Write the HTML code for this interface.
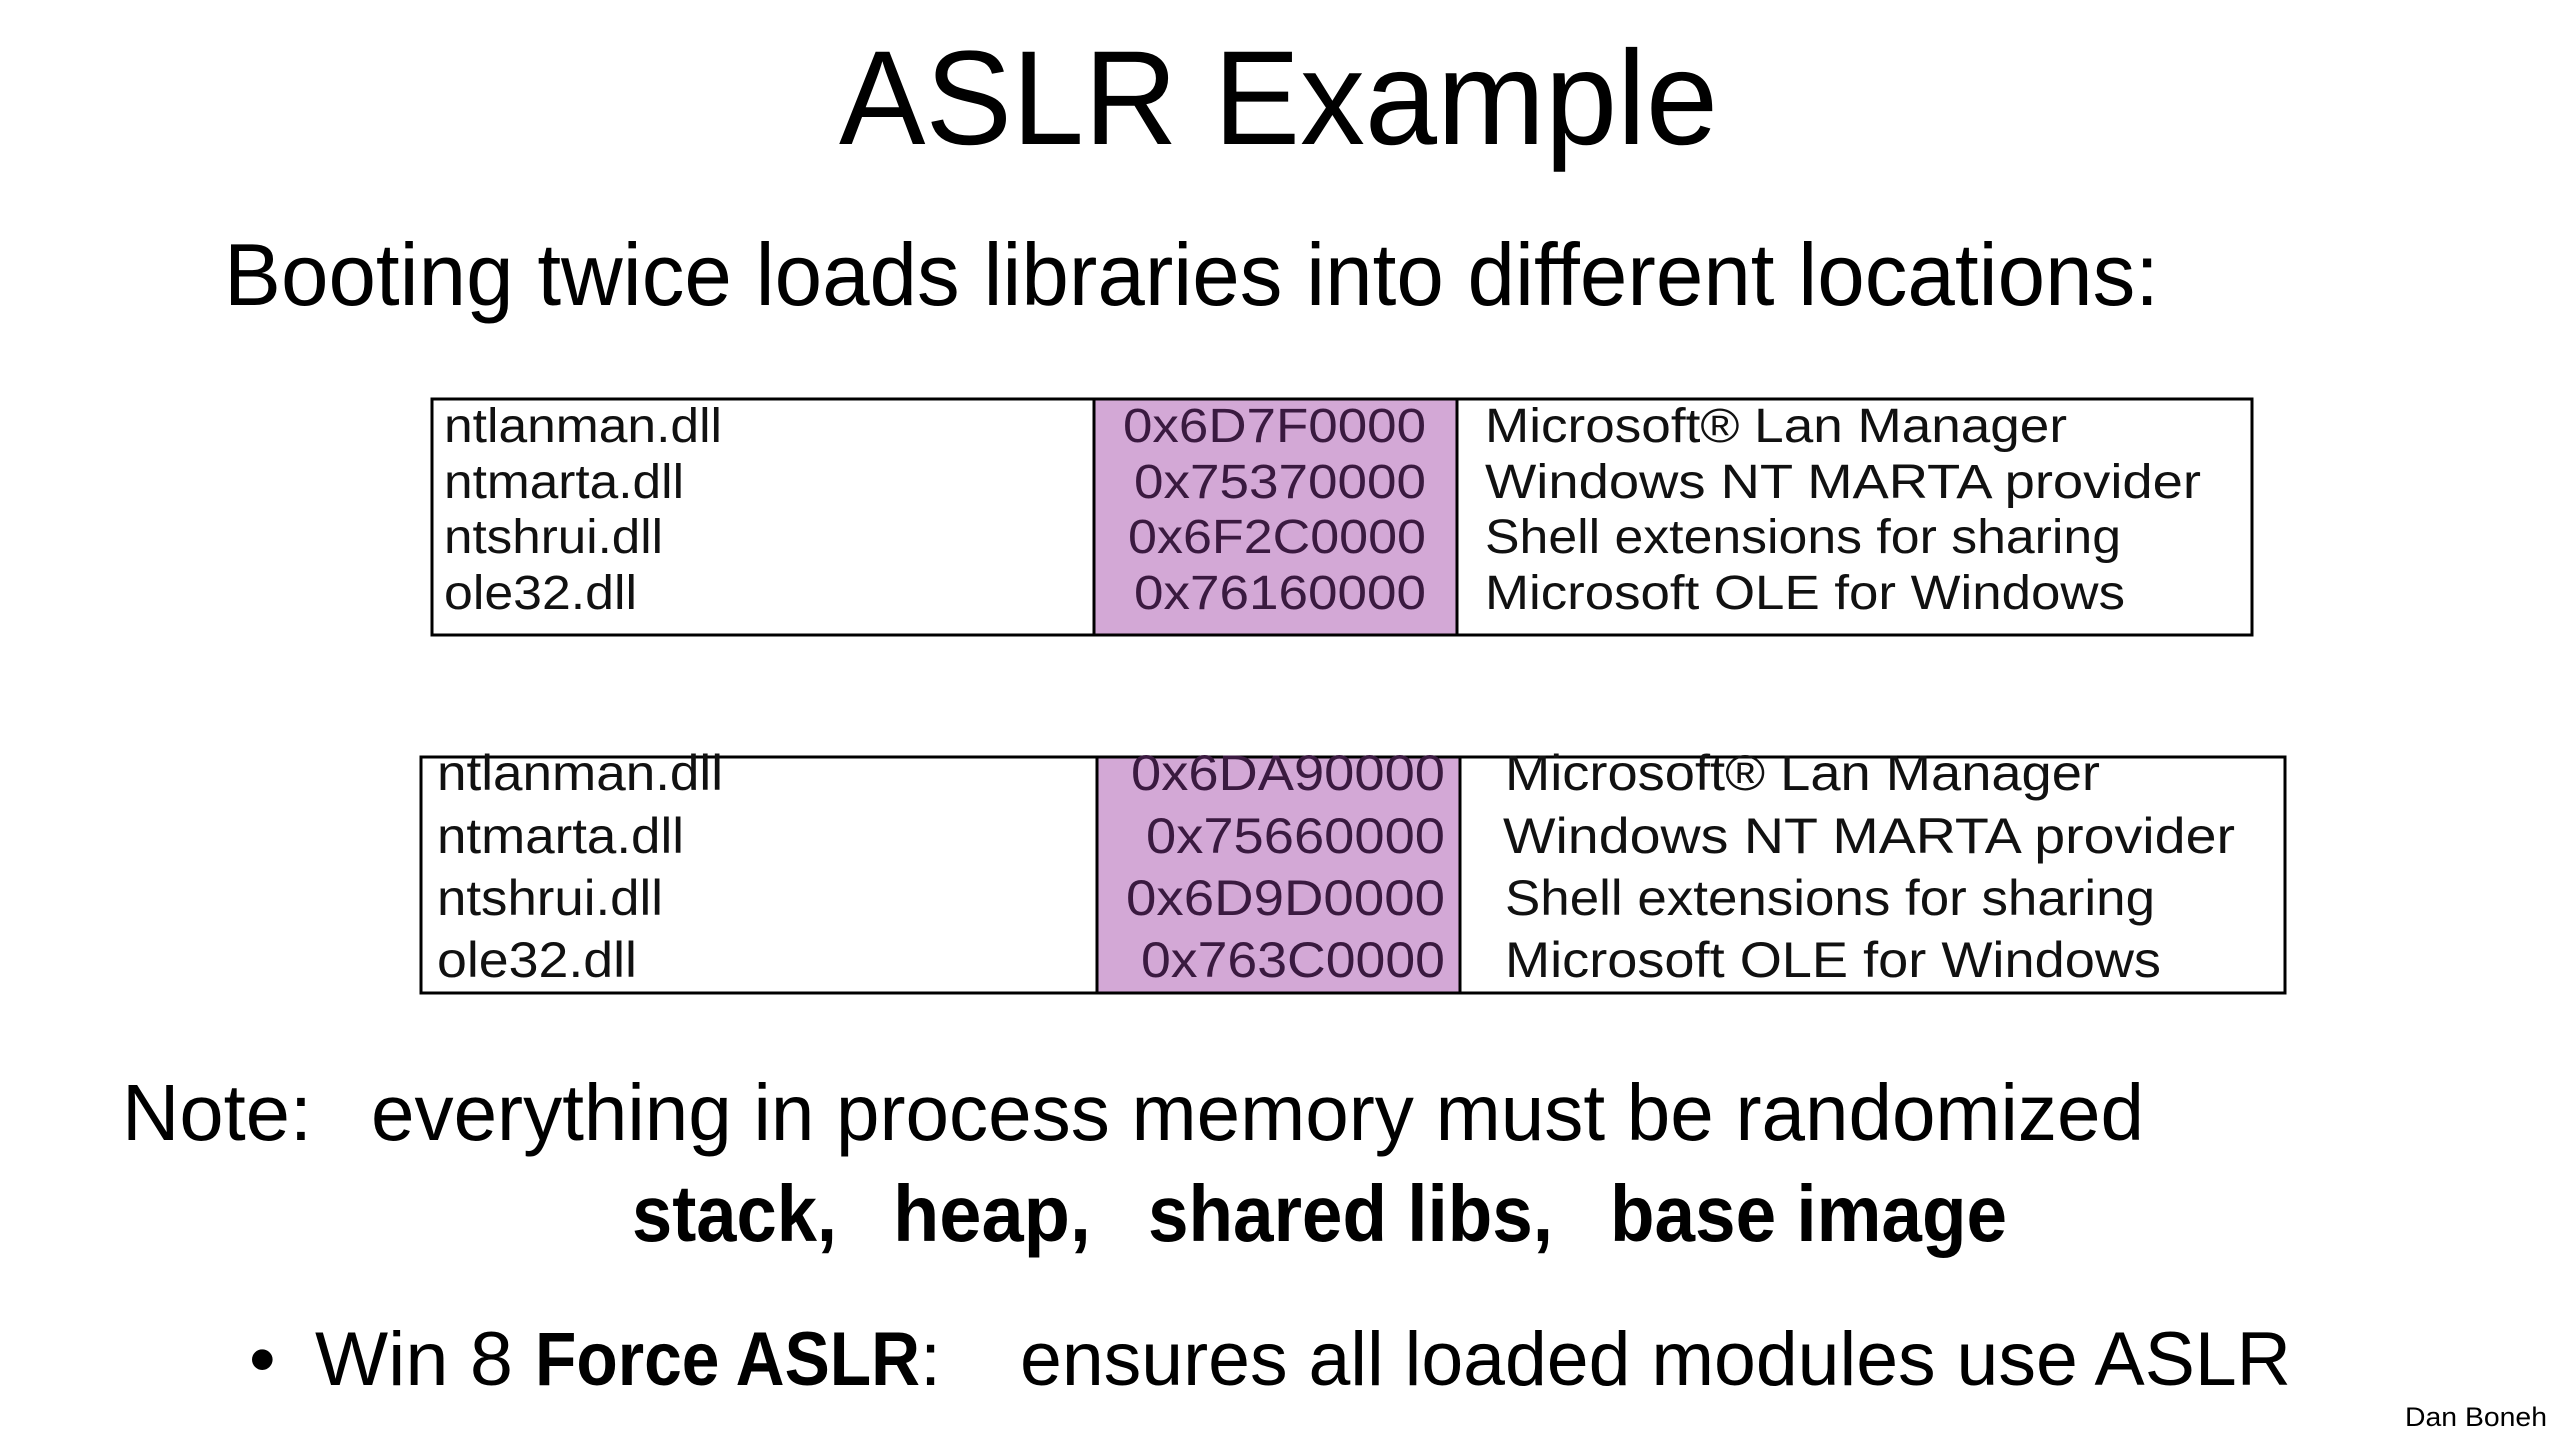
<!DOCTYPE html>
<html><head><meta charset="utf-8"><style>html,body{margin:0;padding:0;background:#fff}svg{display:block}</style></head>
<body>
<svg width="2560" height="1440" viewBox="0 0 2560 1440" xmlns="http://www.w3.org/2000/svg" font-family="Liberation Sans, sans-serif">
<rect width="2560" height="1440" fill="#fff"/>
<text x="839" y="144" font-size="134" textLength="879" lengthAdjust="spacingAndGlyphs">ASLR Example</text>
<text x="224" y="305" font-size="88" textLength="1935" lengthAdjust="spacingAndGlyphs">Booting twice loads libraries into different locations:</text>

<!-- Table 1 -->
<rect x="1094" y="398" width="363" height="237" fill="#d3a8d6"/>
<rect x="432" y="399" width="1820" height="236" fill="none" stroke="#000" stroke-width="3"/>
<line x1="1094" y1="398" x2="1094" y2="635" stroke="#000" stroke-width="3"/>
<line x1="1457" y1="398" x2="1457" y2="635" stroke="#000" stroke-width="3"/>
<g font-size="48" fill="#111">
<text x="444" y="442" textLength="278" lengthAdjust="spacingAndGlyphs">ntlanman.dll</text>
<text x="444" y="498" textLength="240" lengthAdjust="spacingAndGlyphs">ntmarta.dll</text>
<text x="444" y="553" textLength="219" lengthAdjust="spacingAndGlyphs">ntshrui.dll</text>
<text x="444" y="609" textLength="193" lengthAdjust="spacingAndGlyphs">ole32.dll</text>
<text x="1123" y="442" textLength="303" lengthAdjust="spacingAndGlyphs" fill="#3a1a40">0x6D7F0000</text>
<text x="1134" y="498" textLength="292" lengthAdjust="spacingAndGlyphs" fill="#3a1a40">0x75370000</text>
<text x="1128" y="553" textLength="298" lengthAdjust="spacingAndGlyphs" fill="#3a1a40">0x6F2C0000</text>
<text x="1134" y="609" textLength="292" lengthAdjust="spacingAndGlyphs" fill="#3a1a40">0x76160000</text>
<text x="1485" y="442" textLength="582" lengthAdjust="spacingAndGlyphs">Microsoft® Lan Manager</text>
<text x="1485" y="498" textLength="716" lengthAdjust="spacingAndGlyphs">Windows NT MARTA provider</text>
<text x="1485" y="553" textLength="636" lengthAdjust="spacingAndGlyphs">Shell extensions for sharing</text>
<text x="1485" y="609" textLength="640" lengthAdjust="spacingAndGlyphs">Microsoft OLE for Windows</text>
</g>

<!-- Table 2 -->
<rect x="1097" y="756" width="363" height="237" fill="#d3a8d6"/>
<rect x="421" y="757" width="1864" height="236" fill="none" stroke="#000" stroke-width="3"/>
<line x1="1097" y1="756" x2="1097" y2="993" stroke="#000" stroke-width="3"/>
<line x1="1460" y1="756" x2="1460" y2="993" stroke="#000" stroke-width="3"/>
<g font-size="50" fill="#111">
<text x="437" y="790" textLength="286" lengthAdjust="spacingAndGlyphs">ntlanman.dll</text>
<text x="437" y="853" textLength="247" lengthAdjust="spacingAndGlyphs">ntmarta.dll</text>
<text x="437" y="915" textLength="226" lengthAdjust="spacingAndGlyphs">ntshrui.dll</text>
<text x="437" y="977" textLength="200" lengthAdjust="spacingAndGlyphs">ole32.dll</text>
<text x="1131" y="790" textLength="314" lengthAdjust="spacingAndGlyphs" fill="#3a1a40">0x6DA90000</text>
<text x="1146" y="853" textLength="299" lengthAdjust="spacingAndGlyphs" fill="#3a1a40">0x75660000</text>
<text x="1126" y="915" textLength="319" lengthAdjust="spacingAndGlyphs" fill="#3a1a40">0x6D9D0000</text>
<text x="1141" y="977" textLength="304" lengthAdjust="spacingAndGlyphs" fill="#3a1a40">0x763C0000</text>
<text x="1505" y="790" textLength="595" lengthAdjust="spacingAndGlyphs">Microsoft® Lan Manager</text>
<text x="1503" y="853" textLength="732" lengthAdjust="spacingAndGlyphs">Windows NT MARTA provider</text>
<text x="1505" y="915" textLength="650" lengthAdjust="spacingAndGlyphs">Shell extensions for sharing</text>
<text x="1505" y="977" textLength="656" lengthAdjust="spacingAndGlyphs">Microsoft OLE for Windows</text>
</g>

<text x="122" y="1140" font-size="80" textLength="190" lengthAdjust="spacingAndGlyphs">Note:</text>
<text x="371" y="1140" font-size="80" textLength="1773" lengthAdjust="spacingAndGlyphs">everything in process memory must be randomized</text>
<g font-size="80" font-weight="bold">
<text x="632" y="1241" textLength="205" lengthAdjust="spacingAndGlyphs">stack,</text>
<text x="893" y="1241" textLength="198" lengthAdjust="spacingAndGlyphs">heap,</text>
<text x="1148" y="1241" textLength="405" lengthAdjust="spacingAndGlyphs">shared libs,</text>
<text x="1610" y="1241" textLength="397" lengthAdjust="spacingAndGlyphs">base image</text>
</g>
<text x="249" y="1385" font-size="76">•</text>
<text x="315" y="1385" font-size="76" textLength="198" lengthAdjust="spacingAndGlyphs">Win 8</text>
<text x="535" y="1385" font-size="76" font-weight="bold" textLength="385" lengthAdjust="spacingAndGlyphs">Force ASLR</text>
<text x="920" y="1385" font-size="76">:</text>
<text x="1020" y="1385" font-size="76" textLength="1271" lengthAdjust="spacingAndGlyphs">ensures all loaded modules use ASLR</text>
<text x="2405" y="1426" font-size="27" textLength="142" lengthAdjust="spacingAndGlyphs">Dan Boneh</text>
</svg>
</body></html>
